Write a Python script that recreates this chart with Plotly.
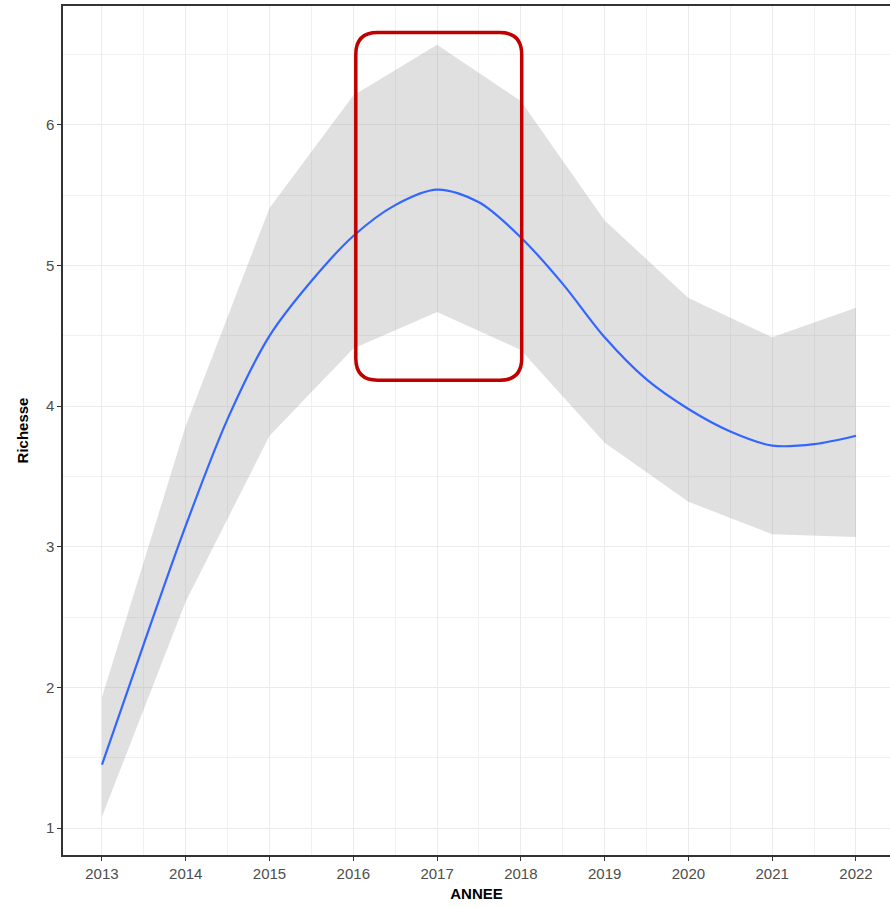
import plotly.graph_objs as go

# ribbon (confidence band) per year
years = [2013, 2014, 2015, 2016, 2017, 2018, 2019, 2020, 2021, 2022]
band_upper = [1.93, 3.86, 5.41, 6.21, 6.57, 6.17, 5.32, 4.77, 4.49, 4.70]
band_lower = [1.08, 2.61, 3.79, 4.41, 4.67, 4.40, 3.74, 3.32, 3.09, 3.07]

# smoothed fit, read every half year
fit_x = [2013, 2013.5, 2014, 2014.5, 2015, 2015.5, 2016, 2016.5, 2017, 2017.5,
         2018, 2018.5, 2019, 2019.5, 2020, 2020.5, 2021, 2021.5, 2022]
fit_y = [1.45, 2.31, 3.15, 3.91, 4.50, 4.89, 5.21, 5.43, 5.54, 5.45,
         5.20, 4.87, 4.49, 4.19, 3.98, 3.82, 3.72, 3.73, 3.79]

# highlight box (data coords)
box_x0, box_x1 = 2016.03, 2018.01
box_y0, box_y1 = 4.184, 6.657

fig = go.Figure()
fig.add_trace(go.Scatter(x=years + years[::-1], y=band_upper + band_lower[::-1],
                         fill='toself', fillcolor='rgba(153,153,153,0.3)',
                         line=dict(width=0), hoverinfo='skip', showlegend=False))
fig.add_trace(go.Scatter(x=fit_x, y=fit_y, mode='lines',
                         line=dict(color='#3366FF', width=2.2, shape='spline', smoothing=0.9),
                         showlegend=False))

# rounded rectangle
rx, ry = 0.26, 0.156
path = (f"M {box_x0 + rx},{box_y1} L {box_x1 - rx},{box_y1} "
        f"Q {box_x1},{box_y1} {box_x1},{box_y1 - ry} L {box_x1},{box_y0 + ry} "
        f"Q {box_x1},{box_y0} {box_x1 - rx},{box_y0} L {box_x0 + rx},{box_y0} "
        f"Q {box_x0},{box_y0} {box_x0},{box_y0 + ry} L {box_x0},{box_y1 - ry} "
        f"Q {box_x0},{box_y1} {box_x0 + rx},{box_y1} Z")
fig.add_shape(type='path', path=path, line=dict(color='#C00000', width=3.5), layer='above')

axis_font = dict(family='Liberation Sans, Arial', size=15, color='#4D4D4D')
fig.update_layout(
    width=890, height=907,
    margin=dict(l=63, r=0, t=6, b=52),
    plot_bgcolor='white', paper_bgcolor='white',
    font=dict(family='Liberation Sans, Arial'),
    xaxis=dict(range=[2012.535, 2022.406], tickvals=years, ticktext=[str(y) for y in years],
               tickfont=axis_font, showgrid=True, gridcolor='#EBEBEB', gridwidth=1.2,
               minor=dict(dtick=0.5, tick0=2012.5, showgrid=True, gridcolor='#F0F0F0', gridwidth=1),
               showline=True, linecolor='#333333', linewidth=1.5, mirror=True,
               ticks='outside', ticklen=4, tickcolor='#333333', zeroline=False,
               title=dict(text='<b>ANNEE</b>', font=dict(size=15, color='black'), standoff=8)),
    yaxis=dict(range=[0.808, 6.846], tickvals=[1, 2, 3, 4, 5, 6],
               tickfont=axis_font, showgrid=True, gridcolor='#EBEBEB', gridwidth=1.2,
               minor=dict(dtick=0.5, tick0=0.5, showgrid=True, gridcolor='#F0F0F0', gridwidth=1),
               showline=True, linecolor='#333333', linewidth=1.5,
               ticks='outside', ticklen=4, tickcolor='#333333', zeroline=False,
               title=dict(text='<b>Richesse</b>', font=dict(size=15, color='black'), standoff=14)),
)

fig.write_html("out.html", config={'displayModeBar': False},
               post_script="document.body.style.margin='0';document.body.style.overflow='hidden';")
